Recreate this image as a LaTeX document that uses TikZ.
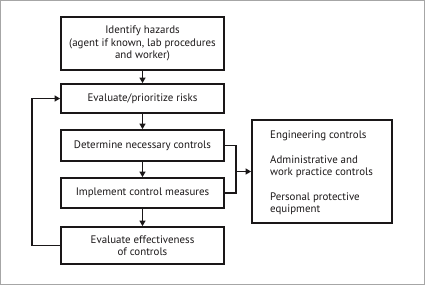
\documentclass[tikz,border=0pt]{standalone}
\usepackage{fontspec}
\setmainfont{PT Sans}
\usetikzlibrary{arrows.meta}
\definecolor{ink}{HTML}{1A1718}
\begin{document}
\begin{tikzpicture}[x=1pt,y=-1pt,
  every node/.style={font=\fontsize{10.9}{12.2}\selectfont, text=ink},
  stepbox/.style={draw=ink, line width=1.8pt, minimum width=163pt, align=center, inner sep=0pt},
  conn/.style={draw=ink, line width=1.8pt, -{Triangle[length=5.5pt,width=6pt]}},
  line/.style={draw=ink, line width=1.8pt}]
\useasboundingbox (0,0) rectangle (425,285);
\draw[gray!70, line width=0.8pt] (0.6,0.6) rectangle (424.4,284.4);
\node[stepbox, minimum height=53pt] (b1) at (142.5,43.5) {Identify hazards\\(agent if known, lab procedures\\and worker)};
\node[stepbox, minimum height=29pt] (b2) at (142.5,98.5) {Evaluate/prioritize risks};
\node[stepbox, minimum height=31pt] (b3) at (142.5,145.5) {Determine necessary controls};
\node[stepbox, minimum height=30pt] (b4) at (142.5,193) {Implement control measures};
\node[stepbox, minimum height=37pt] (b5) at (142.5,245.5) {Evaluate effectiveness\\of controls};
\node[draw=ink, line width=1.8pt, minimum width=140pt, minimum height=103pt, inner sep=0pt] (rb) at (322,171.5) {};
\node[anchor=west, align=left, inner sep=0pt] (rt) at (270,172.5) {Engineering controls\\[12.8pt]Administrative and\\work practice controls\\[12.8pt]Personal protective\\equipment};
\coordinate (mj) at (236,171.5);
\draw[conn] (b1) -- (b2);
\draw[conn] (b2) -- (b3);
\draw[conn] (b3) -- (b4);
\draw[conn] (b4) -- (b5);
\draw[conn] (b5.west) -- ++(-28,0) |- (b2.west);
\draw[line] (b3.east) -| (mj) |- (b4.east);
\draw[conn] (mj) -- (rb.west);
\end{tikzpicture}
\end{document}
